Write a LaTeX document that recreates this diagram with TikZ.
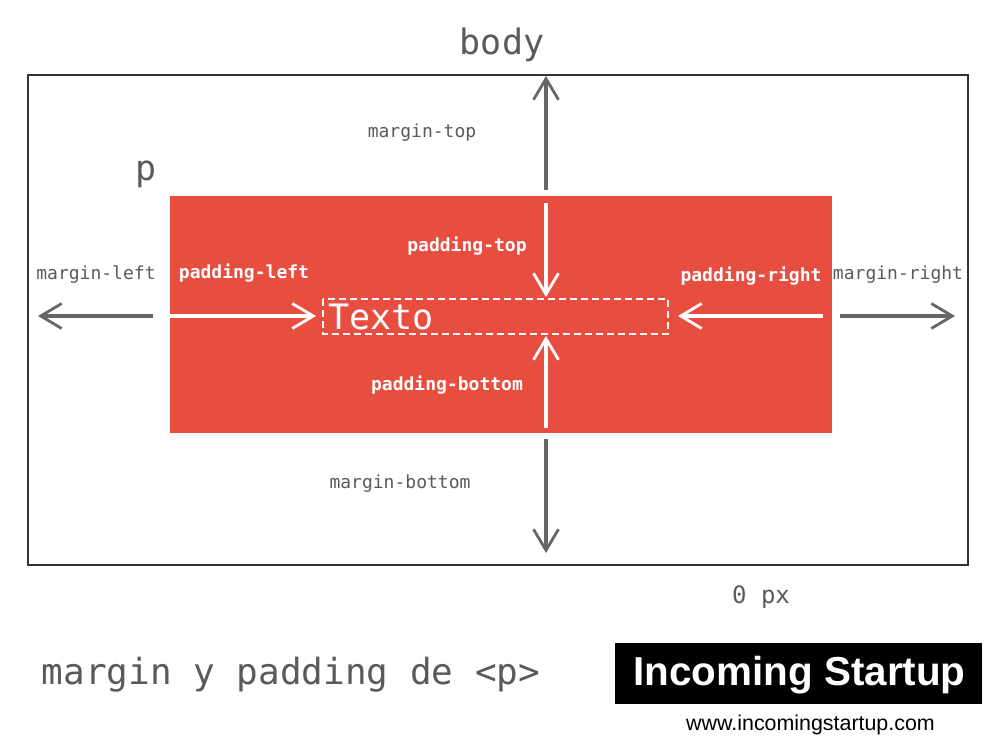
\documentclass[tikz,border=0pt]{standalone}
\usepackage{fontspec}
\setmonofont{DejaVu Sans Mono}
\setsansfont{Liberation Sans}
\usetikzlibrary{calc,arrows.meta,positioning}
\definecolor{boxred}{HTML}{E84E3F}
\definecolor{txtgray}{HTML}{5A5A5A}
\definecolor{arrowgray}{HTML}{666666}
\definecolor{framegray}{HTML}{333333}
\tikzset{
  barb/.style={-{Straight Barb[length=21pt,width=25pt,line width=2.8pt]}, line width=3.2pt},
  marginarrow/.style={barb, draw=arrowgray},
  paddingarrow/.style={barb, draw=white},
  marginlabel/.style={font=\ttfamily\fontsize{18}{18}\selectfont, text=txtgray, inner sep=0pt},
  paddinglabel/.style={font=\ttfamily\bfseries\fontsize{18}{18}\selectfont, text=white, inner sep=0pt},
  biglabel/.style={font=\ttfamily\fontsize{35}{35}\selectfont, text=txtgray, inner sep=0pt},
}
\begin{document}
\begin{tikzpicture}[x=1pt, y=-1pt]
        \useasboundingbox (0,0) rectangle (1000,750);
        \fill[white] (0,0) rectangle (1000,750);
        \draw[framegray, line width=2pt] (28,75) rectangle (968,565);
        \fill[boxred] (170,196) rectangle (832,433);
        \draw[white, dashed, line width=1.5pt, dash pattern=on 7pt off 4pt] (323,299) rectangle (668,334);

        % free ends of the arrows
        \coordinate (topS)    at (546,190);
        \coordinate (topE)    at (546,76);
        \coordinate (ptopS)   at (546,203);
        \coordinate (ptopE)   at (546,297);
        \coordinate (pbotS)   at (546,428);
        \coordinate (pbotE)   at (546,336);
        \coordinate (botS)    at (546,439);
        \coordinate (botE)    at (546,553);
        \coordinate (leftS)   at (153,316);
        \coordinate (leftE)   at (38,316);
        \coordinate (pleftS)  at (170,316);
        \coordinate (pleftE)  at (316,316);
        \coordinate (prightS) at (823,316);
        \coordinate (prightE) at (678,316);
        \coordinate (rightS)  at (840,316);
        \coordinate (rightE)  at (955,316);

        \draw[marginarrow]  (topS) -- (topE);
        \draw[paddingarrow] (ptopS) -- (ptopE);
        \draw[paddingarrow] (pbotS) -- (pbotE);
        \draw[marginarrow]  (botS) -- (botE);
        \draw[marginarrow]  (leftS) -- (leftE);
        \draw[paddingarrow] (pleftS) -- (pleftE);
        \draw[paddingarrow] (prightS) -- (prightE);
        \draw[marginarrow]  (rightS) -- (rightE);

        \node[biglabel] (body) at (502,45) {body};
        \node[biglabel] (para) at (146,174) {p};
        \node[biglabel, text=white, anchor=west] (texto) at (328,317) {Texto};

        \node[marginlabel] (mtop)    at (422,133) {margin-top};
        \node[marginlabel] (mleft)   at (96,275)  {margin-left};
        \node[marginlabel] (mright)  at (898,275) {margin-right};
        \node[marginlabel] (mbottom) at (400,484) {margin-bottom};

        \node[paddinglabel] (ptop)    at (467,246) {padding-top};
        \node[paddinglabel] (pleft)   at (244,273) {padding-left};
        \node[paddinglabel] (pright)  at (751,276) {padding-right};
        \node[paddinglabel] (pbottom) at (447,385) {padding-bottom};

        \node[marginlabel, font=\ttfamily\fontsize{24}{24}\selectfont] (zero) at (761,597) {0 px};
        \node[biglabel, font=\ttfamily\fontsize{36}{36}\selectfont] (caption) at (291,675) {margin y padding de <p>};

        \node[fill=black, minimum width=367pt, minimum height=61pt, inner sep=0pt] (logo) at (798.5,673.5) {};
        \node[text=white, inner sep=0pt, font=\sffamily\bfseries\fontsize{40.4}{40}\selectfont] (logotext) at (799.5,675) {Incoming Startup};
        \node[font=\sffamily\fontsize{21.4}{21}\selectfont, inner sep=0pt] (url) at (810.5,725) {www.incomingstartup.com};
    \end{tikzpicture}
\end{document}
